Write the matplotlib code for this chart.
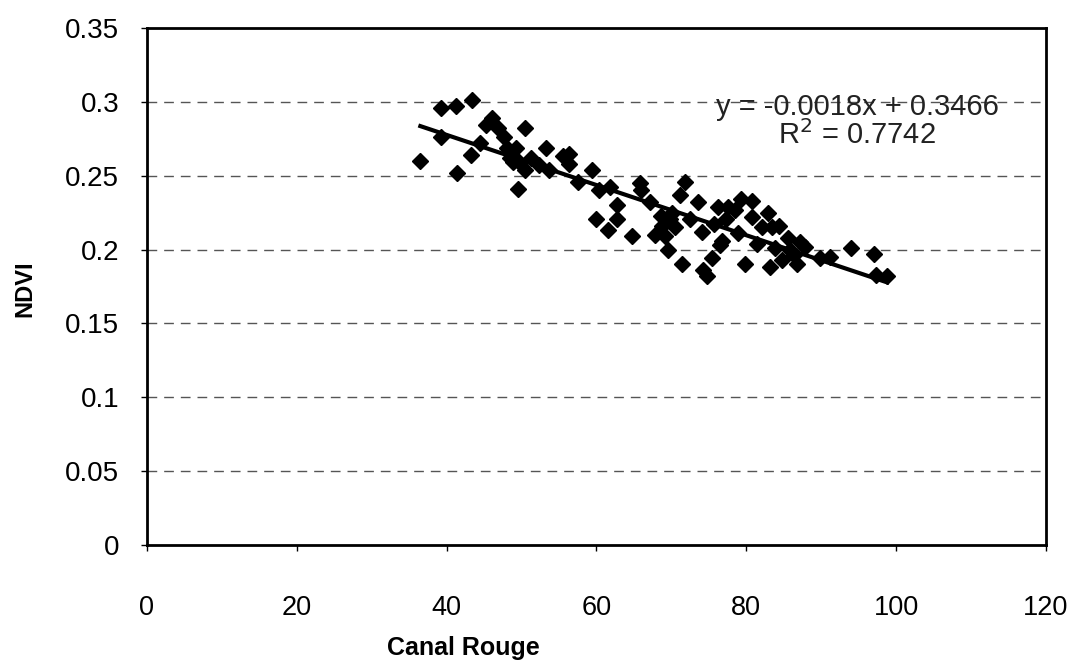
import matplotlib
matplotlib.use("Agg")
import matplotlib.pyplot as plt
import numpy as np

plt.rcParams['font.family'] = ['Liberation Sans', 'DejaVu Sans']

canal_rouge = [36.5, 39.2, 39.2, 41.3, 41.4, 43.4, 43.3, 44.4, 45.3, 46.1, 46.9, 47.7,
               48.1, 48.4, 48.9, 49.3, 49.5, 49.5, 50.4, 50.5, 51.3, 52.4, 53.3, 53.7,
               55.5, 56.4, 56.4, 57.5, 59.4, 60.0, 60.3, 61.5, 61.8, 62.7, 62.8, 64.7,
               65.8, 65.9, 67.2, 67.8, 68.6, 68.7, 69.1, 69.5, 69.8, 70.1, 70.5, 71.1,
               71.4, 71.8, 72.5, 73.5, 74.1, 74.2, 74.7, 75.4, 75.7, 76.2, 76.5, 76.8,
               77.3, 77.5, 78.5, 78.9, 79.3, 79.8, 80.7, 80.7, 81.4, 82.1, 82.9, 83.2,
               83.4, 83.8, 84.4, 84.8, 85.6, 85.8, 86.4, 86.8, 87.2, 87.8, 89.8, 91.2,
               94.0, 97.1, 97.3, 98.8]
ndvi = [0.260, 0.296, 0.276, 0.297, 0.252, 0.301, 0.264, 0.272, 0.284, 0.289, 0.282, 0.276,
        0.269, 0.262, 0.259, 0.269, 0.260, 0.241, 0.282, 0.254, 0.262, 0.257, 0.269, 0.254,
        0.263, 0.265, 0.258, 0.246, 0.254, 0.221, 0.240, 0.213, 0.242, 0.230, 0.221, 0.209,
        0.245, 0.240, 0.232, 0.210, 0.223, 0.216, 0.209, 0.200, 0.221, 0.225, 0.215, 0.237,
        0.190, 0.246, 0.221, 0.232, 0.212, 0.186, 0.182, 0.194, 0.217, 0.229, 0.203, 0.206,
        0.221, 0.229, 0.227, 0.211, 0.234, 0.190, 0.233, 0.222, 0.204, 0.215, 0.225, 0.188,
        0.215, 0.201, 0.216, 0.193, 0.208, 0.200, 0.196, 0.190, 0.205, 0.202, 0.194, 0.195,
        0.201, 0.197, 0.183, 0.182]

equation_text = "y = -0.0018x + 0.3466"
r2_text = "R$^2$ = 0.7742"

x_ticks = [0, 20, 40, 60, 80, 100, 120]
y_ticks = [0, 0.05, 0.1, 0.15, 0.2, 0.25, 0.3, 0.35]
y_tick_labels = ["0", "0.05", "0.1", "0.15", "0.2", "0.25", "0.3", "0.35"]

fig = plt.figure(figsize=(10.8, 6.64), dpi=100)
ax = fig.add_axes([0.136, 0.179, 0.8325, 0.779])

for yv in y_ticks[1:-1]:
    ax.axhline(yv, color='#555555', lw=1.0, ls=(0, (7, 5)), zorder=1)

ax.plot(canal_rouge, ndvi, ls='none', marker='D', ms=8, color='black',
        markeredgecolor='black', zorder=3)

# linear trend line fitted to the plotted points
coef = np.polyfit(canal_rouge, ndvi, 1)
xs = np.array([min(canal_rouge), max(canal_rouge)])
ax.plot(xs, np.polyval(coef, xs), color='black', lw=3, zorder=4)

ax.text(94.8, 0.2965, equation_text, ha='center', va='center', fontsize=21,
        color='#222222', zorder=5)
ax.text(94.8, 0.2772, r2_text, ha='center', va='center', fontsize=21,
        color='#222222', zorder=5)

ax.set_xlim(0, 120)
ax.set_ylim(0, 0.35)
ax.set_xticks(x_ticks)
ax.set_xticklabels([str(v) for v in x_ticks])
ax.set_yticks(y_ticks)
ax.set_yticklabels(y_tick_labels)
ax.tick_params(axis='x', labelsize=19.5, pad=32, length=4, width=1)
ax.tick_params(axis='y', labelsize=20, pad=16, length=4, width=1)
for s in ax.spines.values():
    s.set_linewidth(2)
    s.set_color('black')

ax.set_xlabel("Canal Rouge", fontsize=18, fontweight='bold', va='center')
ax.xaxis.set_label_coords(0.352, -0.199)
ax.set_ylabel("NDVI", fontsize=17, fontweight='bold', va='center')
ax.yaxis.set_label_coords(-0.1357, 0.495)

fig.savefig("out.png", dpi=100)
